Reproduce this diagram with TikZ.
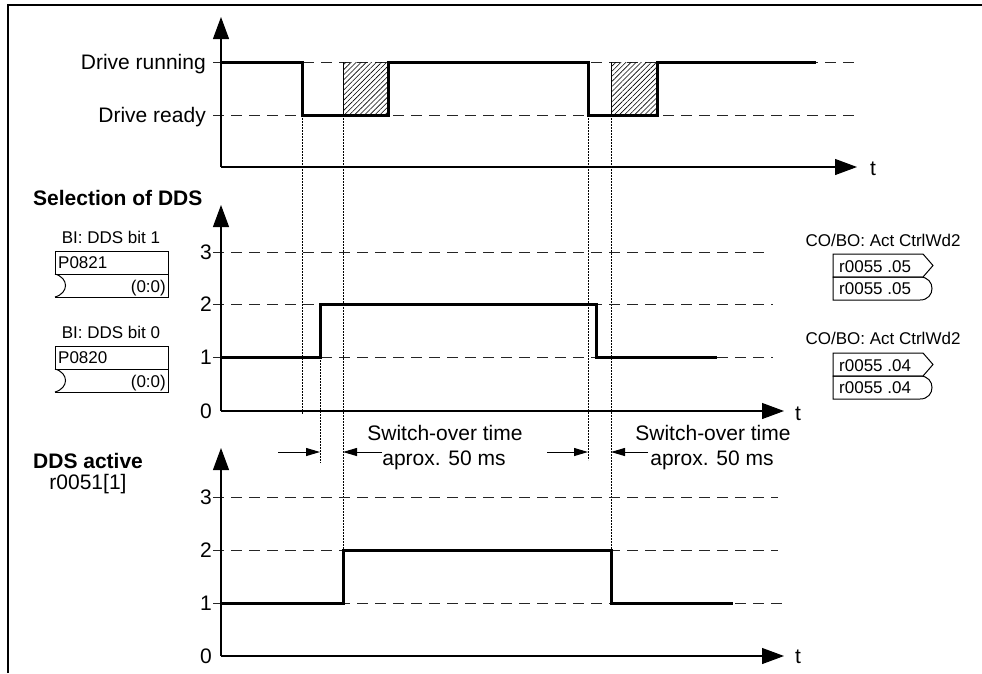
\documentclass[tikz,border=0pt]{standalone}
\usepackage{fontspec}
\setmainfont{Liberation Sans}
\usetikzlibrary{arrows.meta,patterns.meta}
\begin{document}
\begin{tikzpicture}[x=1pt,y=-1pt,
  big/.style={font=\fontsize{21}{25}\selectfont, inner sep=0pt},
  bigb/.style={font=\fontsize{21}{25}\selectfont\bfseries, inner sep=0pt},
  small/.style={font=\fontsize{17}{20}\selectfont, inner sep=0pt},
  ax/.style={line width=1.1pt, -{Triangle[length=22pt,width=16pt]}},
  lvl/.style={dash pattern=on 11pt off 7pt, line width=0.8pt, black!85},
  sig/.style={line width=3pt, line join=miter},
  guide/.style={dash pattern=on 1.6pt off 1.4pt, line width=0.8pt},
  spanarrow/.style={line width=1pt, -{Triangle[length=14pt,width=8pt]}},
  border/.style={line width=2.5pt},
  boxline/.style={line width=1pt},
  hatchfill/.style={pattern={Lines[angle=45,distance=3.6pt,line width=0.6pt]}}
]
\useasboundingbox (0,0) rectangle (982,673);

% frame
\coordinate (fbl) at (8,673);
\coordinate (ftl) at (8,5);
\coordinate (ftr) at (982,5);
\draw[border] (fbl) -- (ftl) -- (ftr);

% ================= top chart =================
\coordinate (o1) at (221,167);
\coordinate (y1) at (221,17);
\coordinate (t1) at (857,167);
\draw[lvl] (213,62) -- (857,62);
\draw[lvl] (213,115) -- (857,115);
\fill[hatchfill] (343,62) rectangle (388,115);
\fill[hatchfill] (611,62) rectangle (657,115);
\draw[line width=0.8pt] (343,62) -- (343,115);
\draw[line width=0.8pt] (611,62) -- (611,115);

% guide lines
\coordinate (g1a) at (302,115); \coordinate (g1b) at (302,414);
\coordinate (g2a) at (343,115); \coordinate (g2b) at (343,550);
\coordinate (g3a) at (320,357); \coordinate (g3b) at (320,463);
\coordinate (g4a) at (588,115); \coordinate (g4b) at (588,460);
\coordinate (g5a) at (611,115); \coordinate (g5b) at (611,550);
\draw[guide] (g1a) -- (g1b);
\draw[guide] (g2a) -- (g2b);
\draw[guide] (g3a) -- (g3b);
\draw[guide] (g4a) -- (g4b);
\draw[guide] (g5a) -- (g5b);

\draw[ax] (o1) -- (y1);
\draw[ax] (o1) -- (t1);
\draw[sig] (221,62) -- (302,62) -- (302,115) -- (388,115) -- (388,62) -- (588,62) -- (588,115) -- (657,115) -- (657,62) -- (816,62);

\node[big, anchor=base east] (lrun) at (206,69.5) {Drive running};
\node[big, anchor=base east] (lready) at (206,122.5) {Drive ready};
\node[big, anchor=base west] (tt1) at (870,175) {t};

% ================= middle chart =================
\coordinate (o2) at (221,411);
\coordinate (y2) at (221,205);
\coordinate (t2) at (784,411);
\draw[lvl] (213,252) -- (766,252);
\draw[lvl] (213,304) -- (773,304);
\draw[lvl] (213,357) -- (773,357);
\draw[ax] (o2) -- (y2);
\draw[ax] (o2) -- (t2);
\draw[sig] (221,357) -- (320,357) -- (320,304) -- (596,304) -- (596,357) -- (717,357);
\node[big, anchor=base east] (m3) at (212,259.5) {3};
\node[big, anchor=base east] (m2) at (212,311.5) {2};
\node[big, anchor=base east] (m1) at (212,364.5) {1};
\node[big, anchor=base east] (m0) at (212,418.5) {0};
\node[big, anchor=base west] (tt2) at (795,420) {t};

\node[bigb, anchor=base west] (selDDS) at (33,205.5) {Selection of DDS};

% BI boxes
\node[small, anchor=base] (bi1) at (111,243) {BI: DDS bit 1};
\draw[boxline] (55,251) rectangle (168,274);
\draw[boxline] (55,274) -- (168,274) -- (168,297) -- (55,297);
\draw[boxline] (55,274) .. controls (69,278) and (69,293) .. (55,297);
\node[small, anchor=base west] (p0821) at (58,268) {P0821};
\node[small, anchor=base east] (p0821s) at (166,292) {(0:0)};

\node[small, anchor=base] (bi0) at (111,338) {BI: DDS bit 0};
\draw[boxline] (55,346) rectangle (168,369);
\draw[boxline] (55,369) -- (168,369) -- (168,392) -- (55,392);
\draw[boxline] (55,369) .. controls (69,373) and (69,388) .. (55,392);
\node[small, anchor=base west] (p0820) at (58,363) {P0820};
\node[small, anchor=base east] (p0820s) at (166,387) {(0:0)};

% CO/BO boxes
\node[small, anchor=base] (co1) at (883,246) {CO/BO: Act CtrlWd2};
\draw[boxline] (833,254) -- (923,254) -- (933,265.5) -- (923,277) -- (833,277) -- cycle;
\draw[boxline] (833,277) -- (920,277) .. controls (936,277) and (936,300) .. (920,300) -- (833,300) -- cycle;
\node[small, anchor=base west] (r05a) at (839,272) {r0055 .05};
\node[small, anchor=base west] (r05b) at (839,294) {r0055 .05};

\node[small, anchor=base] (co2) at (883,344) {CO/BO: Act CtrlWd2};
\draw[boxline] (833,353) -- (923,353) -- (933,364.5) -- (923,376) -- (833,376) -- cycle;
\draw[boxline] (833,376) -- (920,376) .. controls (936,376) and (936,399) .. (920,399) -- (833,399) -- cycle;
\node[small, anchor=base west] (r04a) at (839,371) {r0055 .04};
\node[small, anchor=base west] (r04b) at (839,393) {r0055 .04};

% switch-over arrows
\coordinate (a1s) at (278,452); \coordinate (a1e) at (320,452);
\coordinate (a2s) at (382,452); \coordinate (a2e) at (343,452);
\coordinate (a3s) at (547,452); \coordinate (a3e) at (588,452);
\coordinate (a4s) at (648,452); \coordinate (a4e) at (611,452);
\draw[spanarrow] (a1s) -- (a1e);
\draw[spanarrow] (a2s) -- (a2e);
\draw[spanarrow] (a3s) -- (a3e);
\draw[spanarrow] (a4s) -- (a4e);
\node[big, anchor=base] (sw1) at (445,440.5) {Switch-over time};
\node[big, anchor=base] (ap1) at (444,465.5) {aprox. 50 ms};
\node[big, anchor=base] (sw2) at (713,440.5) {Switch-over time};
\node[big, anchor=base] (ap2) at (712,465.5) {aprox. 50 ms};

% ================= bottom chart =================
\coordinate (o3) at (221,656);
\coordinate (y3) at (221,448);
\coordinate (t3) at (784,656);
\draw[lvl] (213,497) -- (778,497);
\draw[lvl] (213,550) -- (778,550);
\draw[lvl] (213,603) -- (785,603);
\draw[ax] (o3) -- (y3);
\draw[ax] (o3) -- (t3);
\draw[sig] (221,603) -- (343,603) -- (343,550) -- (611,550) -- (611,603) -- (733,603);
\node[big, anchor=base east] (b3) at (212,504.5) {3};
\node[big, anchor=base east] (b2) at (212,557.5) {2};
\node[big, anchor=base east] (b1) at (212,610.5) {1};
\node[big, anchor=base east] (b0) at (212,663.5) {0};
\node[big, anchor=base west] (tt3) at (795,663) {t};

\node[bigb, anchor=base west] (ddsact) at (33,468) {DDS active};
\node[big, anchor=base] (r0051) at (88,489.5) {r0051[1]};
\end{tikzpicture}
\end{document}
